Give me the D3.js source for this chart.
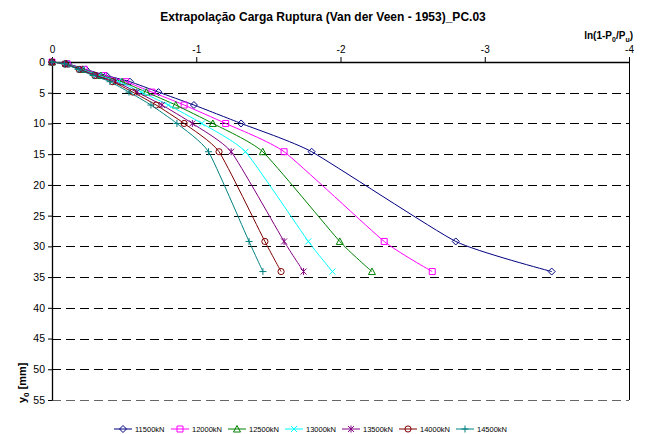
<!DOCTYPE html>
<html>
<head>
<meta charset="utf-8">
<script src="https://cdn.jsdelivr.net/npm/d3@7"></script>
<style>
    body { margin: 0; background: #fff; }
    svg { font-family: "Liberation Sans", Arial, sans-serif; }
</style>
</head>
<body>
<div id="chart"></div>
<script>
const width = 646;
const height = 434;
const margin = {top: 62, right: 17, bottom: 34, left: 52};

// Settlement y0 [mm] for each load stage (shared by all series).
const settlements = [0, 0.3, 1.2, 2.2, 3.2, 4.9, 7.0, 10.0, 14.6, 29.2, 34.1];

// ln(1-P0/Pu), one array per assumed rupture load.
const pu11500 = [0, -0.110, -0.234, -0.376, -0.540, -0.738, -0.984, -1.311, -1.800, -2.799, -3.464];
const pu12000 = [0, -0.105, -0.223, -0.357, -0.511, -0.693, -0.916, -1.204, -1.609, -2.303, -2.636];
const pu12500 = [0, -0.101, -0.213, -0.340, -0.485, -0.654, -0.858, -1.115, -1.461, -1.995, -2.218];
const pu13000 = [0, -0.097, -0.204, -0.324, -0.461, -0.619, -0.807, -1.039, -1.341, -1.777, -1.944];
const pu13500 = [0, -0.093, -0.196, -0.310, -0.439, -0.588, -0.762, -0.973, -1.242, -1.609, -1.744];
const pu14000 = [0, -0.090, -0.188, -0.297, -0.420, -0.560, -0.722, -0.916, -1.158, -1.476, -1.588];
const pu14500 = [0, -0.086, -0.181, -0.285, -0.402, -0.534, -0.686, -0.866, -1.085, -1.366, -1.462];

const seriesNames = ['11500kN', '12000kN', '12500kN', '13000kN', '13500kN', '14000kN', '14500kN'];
const seriesValues = [pu11500, pu12000, pu12500, pu13000, pu13500, pu14000, pu14500];
const seriesColors = ['#000080', '#ff00ff', '#008000', '#00ffff', '#800080', '#800000', '#008080'];
const seriesMarkers = ['diamond', 'square', 'triangle', 'x', 'star', 'circle', 'plus'];

const xTicks = [0, -1, -2, -3, -4];
const yTicks = [0, 5, 10, 15, 20, 25, 30, 35, 40, 45, 50, 55];

const title = 'Extrapolação Carga Ruptura (Van der Veen - 1953)_PC.03';

/**
 * Path string for an Excel-like marker centred on 0,0.
 */
function markerPath(type) {
    switch (type) {
        case 'diamond': return 'M0,-3.5L3.5,0L0,3.5L-3.5,0Z';
        case 'square': return 'M-3,-3H3V3H-3Z';
        case 'triangle': return 'M0,-3.5L3.5,3L-3.5,3Z';
        case 'x': return 'M-3,-3L3,3M3,-3L-3,3';
        case 'star': return 'M-3,-3L3,3M3,-3L-3,3M0,-3.5V3.5';
        case 'circle': return d3.symbol().type(d3.symbolCircle).size(30)();
        case 'plus': return 'M-3.5,0H3.5M0,-3.5V3.5';
    }
}

const svg = d3.select('#chart').append('svg')
    .attr('width', width)
    .attr('height', height);

const x = d3.scaleLinear()
    .domain([0, -4])
    .range([margin.left, width - margin.right]);
const y = d3.scaleLinear()
    .domain([0, 55])
    .range([margin.top, height - margin.bottom]);

// Title.
svg.append('text')
    .attr('x', width / 2)
    .attr('y', 21)
    .attr('text-anchor', 'middle')
    .style('font-size', '12px')
    .style('font-weight', 'bold')
    .text(title);

// Horizontal dashed grid.
svg.append('g')
    .selectAll('line')
    .data(yTicks.slice(1))
    .enter().append('line')
    .attr('x1', x(0))
    .attr('x2', x(-4))
    .attr('y1', (d) => Math.round(y(d)) + 0.5)
    .attr('y2', (d) => Math.round(y(d)) + 0.5)
    .attr('stroke', (d) => d === 55 ? '#666' : '#000')
    .attr('stroke-width', 1)
    .attr('stroke-dasharray', '9,5');

// Right border.
svg.append('line')
    .attr('x1', Math.round(x(-4)) + 0.5)
    .attr('x2', Math.round(x(-4)) + 0.5)
    .attr('y1', y(0))
    .attr('y2', y(55))
    .attr('stroke', '#000');

// x axis on top.
const xAxis = svg.append('g')
    .attr('transform', `translate(0,${y(0)})`)
    .call(d3.axisTop(x).tickValues(xTicks).tickFormat((d) => String(d)).tickSize(5).tickSizeOuter(0));
xAxis.select('.domain').attr('stroke-width', 1.3);
xAxis.selectAll('text')
    .style('font-size', '10px')
    .attr('y', -9);

// y axis on the left.
const yAxis = svg.append('g')
    .attr('transform', `translate(${x(0)},0)`)
    .call(d3.axisLeft(y).tickValues(yTicks).tickSize(4).tickSizeOuter(0));
yAxis.select('.domain').attr('stroke-width', 1.3);
yAxis.selectAll('text')
    .style('font-size', '10.5px')
    .attr('x', -7);

// Axis titles.
const xTitle = svg.append('text')
    .attr('x', 633)
    .attr('y', 39)
    .attr('text-anchor', 'end')
    .style('font-size', '10px')
    .style('font-weight', 'bold');
xTitle.append('tspan').text('ln(1-P');
xTitle.append('tspan').attr('dy', 3).style('font-size', '7px').text('0');
xTitle.append('tspan').attr('dy', -3).text('/P');
xTitle.append('tspan').attr('dy', 3).style('font-size', '7px').text('u');
xTitle.append('tspan').attr('dy', -3).text(')');

const yTitle = svg.append('text')
    .attr('transform', 'translate(26,403) rotate(-90)')
    .attr('text-anchor', 'start')
    .style('font-size', '11px')
    .style('font-weight', 'bold');
yTitle.append('tspan').text('y');
yTitle.append('tspan').attr('dy', 3).style('font-size', '8px').text('0');
yTitle.append('tspan').attr('dy', -3).text(' [mm]');

// Series, smoothed like the spreadsheet lines.
const line = d3.line()
    .x((d) => x(d.v))
    .y((d) => y(d.s))
    .curve(d3.curveCardinal.tension(0.5));

seriesValues.forEach((values, i) => {
    const data = values.map((v, j) => ({v, s: settlements[j]}));
    const color = seriesColors[i];
    svg.append('path')
        .attr('d', line(data))
        .attr('fill', 'none')
        .attr('stroke', color)
        .attr('stroke-width', 1);
    svg.append('g')
        .selectAll('path')
        .data(data)
        .enter().append('path')
        .attr('transform', (d) => `translate(${x(d.v)},${y(d.s)})`)
        .attr('d', markerPath(seriesMarkers[i]))
        .attr('fill', 'none')
        .attr('stroke', color)
        .attr('stroke-width', 1);
});

// Legend.
const legendStart = 114;
const legendStep = 57;
const legendY = 429;
const legend = svg.append('g')
    .selectAll('g')
    .data(seriesNames)
    .enter().append('g')
    .attr('transform', (d, i) => `translate(${legendStart + i * legendStep},${legendY})`);
legend.append('line')
    .attr('x1', 0)
    .attr('x2', 18)
    .attr('stroke', (d, i) => seriesColors[i]);
legend.append('path')
    .attr('transform', 'translate(9,0)')
    .attr('d', (d, i) => markerPath(seriesMarkers[i]))
    .attr('fill', 'none')
    .attr('stroke', (d, i) => seriesColors[i]);
legend.append('text')
    .attr('x', 21)
    .attr('y', 3)
    .style('font-size', '7.5px')
    .text((d) => d);
</script>
</body>
</html>
